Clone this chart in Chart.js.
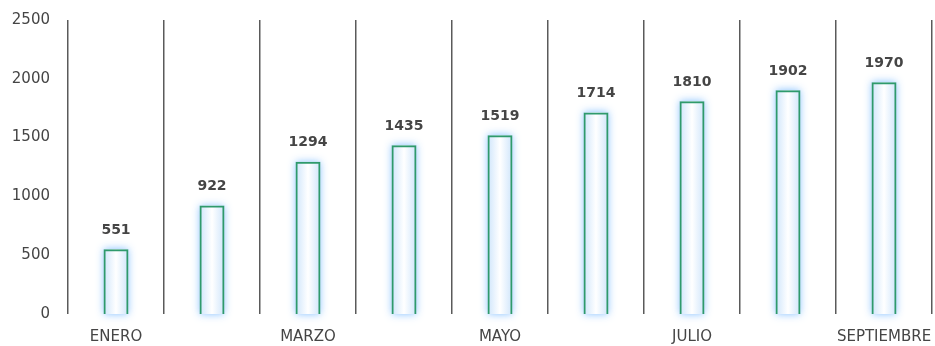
<!DOCTYPE html>
<html>
<head>
<meta charset="utf-8">
<script src="https://cdn.jsdelivr.net/npm/chart.js@4/dist/chart.umd.min.js"></script>
<style>
  html, body { margin: 0; padding: 0; background: #fff; overflow: hidden; }
  #wrap { width: 935px; height: 346px; }
</style>
</head>
<body>
<div id="wrap"><canvas id="chart"></canvas></div>
<script>
const months = ['ENERO', 'FEBRERO', 'MARZO', 'ABRIL', 'MAYO', 'JUNIO', 'JULIO', 'AGOSTO', 'SEPTIEMBRE'];
const values = [551, 922, 1294, 1435, 1519, 1714, 1810, 1902, 1970];
const yTicks = [0, 500, 1000, 1500, 2000, 2500];

const FONT = '"DejaVu Sans", "Open Sans", sans-serif';
const TEXT = '#454545';

// soft blue glow + white-to-blue inner fill, drawn under each bar's border
const glowPlugin = {
    id: 'glow',
    beforeDatasetsDraw(chart) {
        const ctx = chart.ctx;
        const meta = chart.getDatasetMeta(0);
        meta.data.forEach(bar => {
            const p = bar.getProps(['x', 'y', 'base', 'width'], true);
            const left = p.x - p.width / 2;
            const top = Math.min(p.y, p.base);
            const h = Math.abs(p.base - p.y);
            ctx.save();
            ctx.shadowColor = 'rgba(120, 185, 255, 0.9)';
            ctx.shadowBlur = 8;
            ctx.fillStyle = '#cfe6ff';
            ctx.fillRect(left, top, p.width, h);
            ctx.restore();

            ctx.save();
            const g = ctx.createLinearGradient(left, 0, left + p.width, 0);
            g.addColorStop(0, '#cfe5fb');
            g.addColorStop(0.5, '#ffffff');
            g.addColorStop(1, '#cfe5fb');
            ctx.fillStyle = g;
            ctx.fillRect(left, top, p.width, h);
            ctx.restore();
        });
    }
};

// value labels above each bar
const valueLabels = {
    id: 'valueLabels',
    afterDatasetsDraw(chart) {
        const ctx = chart.ctx;
        const meta = chart.getDatasetMeta(0);
        ctx.save();
        ctx.font = 'bold 14px ' + FONT;
        ctx.fillStyle = TEXT;
        ctx.textAlign = 'center';
        ctx.textBaseline = 'middle';
        meta.data.forEach((bar, i) => {
            ctx.fillText(values[i], bar.x, bar.y - 19);
        });
        ctx.restore();
    }
};

new Chart(document.getElementById('chart'), {
    type: 'bar',
    data: {
        labels: months,
        datasets: [{
            data: values,
            backgroundColor: 'rgba(0,0,0,0)',
            borderColor: '#2f9a6c',
            borderWidth: 2,
            barPercentage: 0.26,
            categoryPercentage: 1
        }]
    },
    options: {
        responsive: true,
        maintainAspectRatio: false,
        animation: false,
        layout: { padding: { top: 20, right: 3, left: 0, bottom: 0 } },
        plugins: {
            legend: { display: false },
            tooltip: { enabled: false }
        },
        scales: {
            x: {
                offset: true,
                border: { display: false },
                grid: {
                    offset: true,
                    color: '#5a5a5a',
                    lineWidth: 1.5,
                    drawTicks: false
                },
                ticks: {
                    autoSkip: false,
                    maxRotation: 0,
                    color: TEXT,
                    font: { family: FONT, size: 15 },
                    padding: 14,
                    callback: (v, i) => (i % 2 === 0 ? months[i] : '')
                },
                afterFit(scale) {
                    scale.height = 32;
                    scale.paddingLeft = 0;
                    scale.paddingRight = 0;
                }
            },
            y: {
                min: 0,
                max: 2500,
                border: { display: false },
                grid: { display: false, drawTicks: false },
                afterBuildTicks(scale) {
                    scale.ticks = yTicks.map(v => ({ value: v }));
                },
                ticks: {
                    color: TEXT,
                    font: { family: FONT, size: 15 },
                    padding: 18,
                    callback: v => String(v)
                },
                afterFit(scale) {
                    scale.width = 68;
                    scale.paddingTop = 0;
                    scale.paddingBottom = 0;
                }
            }
        }
    },
    plugins: [glowPlugin, valueLabels]
});
</script>
</body>
</html>
